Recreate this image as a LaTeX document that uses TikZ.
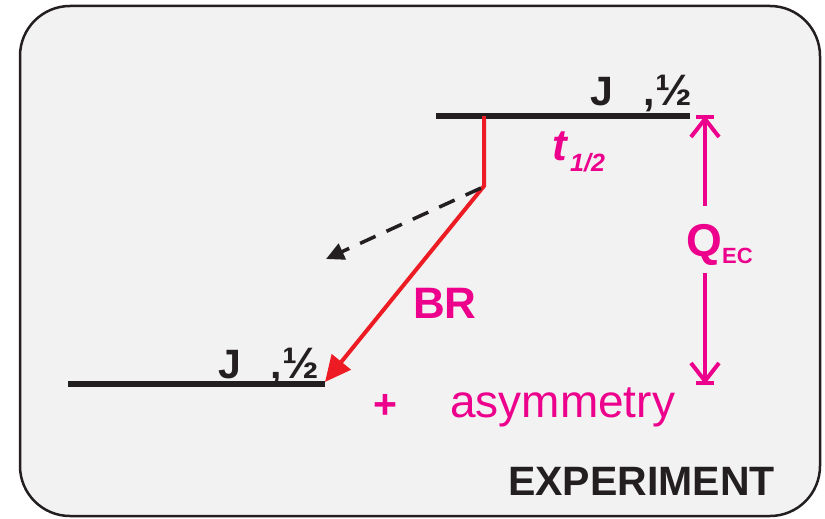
\documentclass[tikz,border=0pt]{standalone}
\usepackage{fontspec}
\setmainfont{Liberation Sans}
\usetikzlibrary{arrows.meta}
\definecolor{mag}{HTML}{EC008C}
\definecolor{redl}{HTML}{ED1C24}
\definecolor{blk}{HTML}{231F20}
\definecolor{bgg}{HTML}{F2F2F2}
\tikzset{
  level/.style={blk, line width=5.5pt},
  spinlbl/.style={inner sep=0, anchor=base west, text=blk, font=\fontsize{41}{48}\selectfont\bfseries},
  magtxt/.style={inner sep=0, anchor=base west, text=mag},
  qline/.style={mag, line width=4pt},
}
\begin{document}
\begin{tikzpicture}[x=1pt,y=-1pt]
\useasboundingbox (0,0) rectangle (825,519);
\draw[blk, line width=2.5pt, fill=bgg, rounded corners=50pt] (20,6) rectangle (820,516);

% levels
\coordinate (u1) at (436,116);
\coordinate (u2) at (690,116);
\coordinate (l1) at (68,384);
\coordinate (l2) at (325,384);
\draw[level] (u1) -- (u2);
\draw[level] (l1) -- (l2);

\node[spinlbl] (ju) at (590,106) {J\hspace{31pt},{\fontsize{44}{48}\selectfont ½}};
\node[spinlbl] (jl) at (218,378) {J\hspace{30pt},{\fontsize{44}{48}\selectfont ½}};

% red decay path
\coordinate (r0) at (484,116);
\coordinate (r1) at (484,186);
\coordinate (r2) at (325,382);
\draw[redl, line width=4pt, miter limit=10, -{Triangle[length=26pt,width=24pt]}] (r0) -- (r1) -- (r2);

% dashed branch
\coordinate (d0) at (481,188);
\coordinate (d1) at (326,259);
\draw[blk, line width=3.5pt, dash pattern=on 17pt off 12pt, -{Triangle[length=18pt,width=17pt]}] (d0) -- (d1);

% half-life
\node[magtxt, font=\fontsize{44}{50}\selectfont\bfseries\itshape] (t) at (552,160) {t};
\node[magtxt, font=\fontsize{25}{28}\selectfont\bfseries\itshape] (th) at (570,171) {1/2};

% BR
\node[magtxt, font=\fontsize{44}{50}\selectfont\bfseries] (br) at (413,318) {BR};

% Q_EC arrows
\coordinate (qt) at (705,117);
\coordinate (qa) at (705,206);
\coordinate (qb) at (705,273);
\coordinate (qbot) at (705,383);
\draw[qline] (qt) -- (qa);
\draw[qline] (qb) -- (qbot);
\draw[qline, line join=miter] ([shift={(-14,20)}]qt) -- ([shift={(0,2)}]qt) -- ([shift={(14,20)}]qt);
\draw[qline] ([shift={(-9,0)}]qt) -- ([shift={(9,0)}]qt);
\draw[qline, line join=miter] ([shift={(-14,-20)}]qbot) -- ([shift={(0,-2)}]qbot) -- ([shift={(14,-20)}]qbot);
\draw[qline] ([shift={(-9,0)}]qbot) -- ([shift={(9,0)}]qbot);
\node[magtxt, font=\fontsize{46}{50}\selectfont\bfseries] (q) at (686,256) {Q};
\node[magtxt, font=\fontsize{22}{25}\selectfont\bfseries] (ec) at (722,263) {EC};

% plus asymmetry
\node[magtxt, font=\fontsize{41}{48}\selectfont\bfseries] (plus) at (373,418) {+};
\node[magtxt, font=\fontsize{46}{52}\selectfont] (asym) at (450,417) {asymmetry};

% label
\node[spinlbl] (exp) at (508,495) {EXPERIMENT};
\end{tikzpicture}
\end{document}
